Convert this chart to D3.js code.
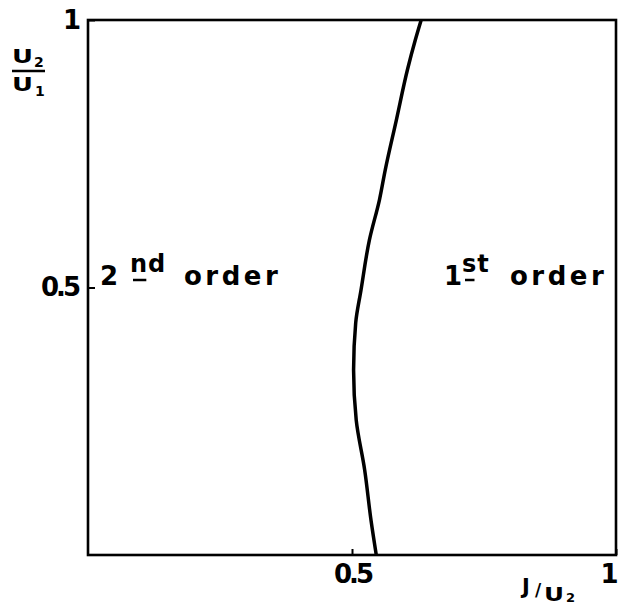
<!DOCTYPE html>
<html>
<head>
<meta charset="utf-8">
<script src="https://d3js.org/d3.v7.min.js"></script>
<style>
  body { margin: 0; background: #fff; }
  text { font-family: "DejaVu Sans", sans-serif; font-weight: bold; fill: #000; }
</style>
</head>
<body>
<div id="chart"></div>
<script>
// phase boundary between 2nd and 1st order transitions
const boundaryJ = [0.546, 0.536, 0.524, 0.508, 0.503, 0.507, 0.517, 0.533, 0.552, 0.563, 0.584, 0.605, 0.620, 0.631];
const boundaryU = [0.000, 0.065, 0.159, 0.252, 0.346, 0.434, 0.495, 0.589, 0.664, 0.720, 0.813, 0.907, 0.963, 1.000];
const xTicks = [0.5, 1];
const yTicks = [0.5, 1];
const xTickLabels = ["0.5", "1"];
const yTickLabels = ["0.5", "1"];

const width = 618, height = 608;
const svg = d3.select("#chart").append("svg")
    .attr("width", width)
    .attr("height", height);

const x = d3.scaleLinear().domain([0, 1]).range([88, 616]);
const y = d3.scaleLinear().domain([0, 1]).range([555, 20]);

// frame
svg.append("rect")
    .attr("x", x(0)).attr("y", y(1))
    .attr("width", x(1) - x(0)).attr("height", y(0) - y(1))
    .attr("fill", "none").attr("stroke", "#000").attr("stroke-width", 2.6);

// axes (ticks point inward)
const xAxis = svg.append("g")
    .attr("transform", `translate(0,${y(0)})`)
    .call(d3.axisBottom(x).tickValues(xTicks).tickSize(-6).tickPadding(10)
        .tickFormat((d, i) => xTickLabels[i]));
const yAxis = svg.append("g")
    .attr("transform", `translate(${x(0)},0)`)
    .call(d3.axisLeft(y).tickValues(yTicks).tickSize(-7).tickPadding(10)
        .tickFormat((d, i) => yTickLabels[i]));
[xAxis, yAxis].forEach(g => {
    g.select(".domain").remove();
    g.selectAll("line").attr("stroke", "#000").attr("stroke-width", 2);
    g.selectAll("text")
        .attr("font-family", "DejaVu Sans, sans-serif")
        .attr("font-weight", "bold")
        .attr("font-size", 26)
        .attr("letter-spacing", -3)
        .attr("fill", "#000");
});
// keep the "1" at the right edge inside the page
xAxis.selectAll("text").filter(d => d === 1).attr("text-anchor", "end").attr("dx", -1);

// boundary curve
const pts = boundaryJ.map((d, i) => [d, boundaryU[i]]);
svg.append("path")
    .datum(pts)
    .attr("fill", "none")
    .attr("stroke", "#000")
    .attr("stroke-width", 3.5)
    .attr("d", d3.line()
        .x(d => x(d[0]))
        .y(d => y(d[1]))
        .curve(d3.curveMonotoneY));

// y axis title U2/U1
const yt = svg.append("g");
yt.append("text").attr("x", 12).attr("y", 63).attr("font-size", 20)
    .attr("textLength", 21).attr("lengthAdjust", "spacingAndGlyphs").text("U");
yt.append("text").attr("x", 34).attr("y", 67).attr("font-size", 14).text("2");
yt.append("line").attr("x1", 12).attr("x2", 45).attr("y1", 71).attr("y2", 71)
    .attr("stroke", "#000").attr("stroke-width", 2.5);
yt.append("text").attr("x", 12).attr("y", 91).attr("font-size", 20)
    .attr("textLength", 21).attr("lengthAdjust", "spacingAndGlyphs").text("U");
yt.append("text").attr("x", 35).attr("y", 96).attr("font-size", 14).text("1");

// x axis title J/U2
const xt = svg.append("g");
xt.append("text").attr("x", 522).attr("y", 594).attr("font-size", 21).text("J");
xt.append("text").attr("x", 535).attr("y", 596).attr("font-size", 17).text("/");
xt.append("text").attr("x", 544).attr("y", 601).attr("font-size", 19)
    .attr("textLength", 20).attr("lengthAdjust", "spacingAndGlyphs").text("U");
xt.append("text").attr("x", 566).attr("y", 602).attr("font-size", 13).text("2");

// region labels
function orderLabel(x0, num, sup, supX, wordX) {
    const g = svg.append("g");
    g.append("text").attr("x", x0).attr("y", 285).attr("font-size", 26).text(num);
    const s = g.append("text").attr("x", supX).attr("y", 272).attr("font-size", 24)
        .attr("letter-spacing", 1).text(sup);
    const bb = s.node().getBBox();
    g.append("line").attr("x1", bb.x + 3).attr("x2", bb.x + bb.width * 0.45)
        .attr("y1", 280).attr("y2", 280).attr("stroke", "#000").attr("stroke-width", 2.5);
    g.append("text").attr("x", wordX).attr("y", 285).attr("font-size", 26)
        .attr("letter-spacing", 3.5).text("order");
}
orderLabel(100, "2", "nd", 130, 184);
orderLabel(444, "1", "st", 462, 510);
</script>
</body>
</html>
